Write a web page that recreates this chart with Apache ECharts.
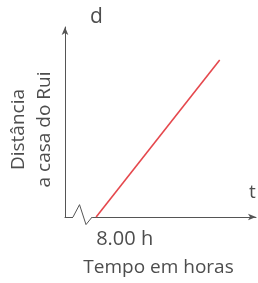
<!DOCTYPE html>
<html>
<head>
<meta charset="utf-8">
<script src="https://cdn.jsdelivr.net/npm/echarts@6/dist/echarts.min.js"></script>
<style>
  html, body { margin: 0; padding: 0; background: #fff; }
  #chart { width: 258px; height: 283px; }
</style>
</head>
<body>
<div id="chart"></div>
<script>
// tempo (unidades arbitrárias do eixo) e distância da viagem
var times = [16.3, 81]
var distances = [0, 82.6]

// rótulo do instante de partida
var startLabel = '8.00 h'

// quebra (zigue-zague) no eixo do tempo
var breakTimes = [4.2, 7.6, 11, 14.2]
var breakValues = [0, 6.5, -4, 0]

var textColor = '#4d4d4d'
var font = 'Open Sans'

var chart = echarts.init(document.getElementById('chart'))

chart.setOption({
  animation: false,
  grid: { left: 65, right: 2, top: 27, bottom: 66, outerBoundsMode: 'none' },
  xAxis: {
    type: 'value',
    min: 0,
    max: 100,
    name: 'Tempo em horas',
    nameLocation: 'middle',
    nameGap: 41,
    nameTextStyle: { color: textColor, fontSize: 19, fontFamily: font, padding: [0, 4, 0, 0] },
    axisLine: {
      lineStyle: { color: '#555', width: 1 },
      symbol: ['none', 'arrow'],
      symbolSize: [5, 8]
    },
    axisTick: { show: false },
    splitLine: { show: false },
    axisLabel: {
      customValues: [times[0]],
      formatter: function () { return startLabel },
      align: 'left',
      margin: 12,
      color: textColor,
      fontSize: 20,
      fontFamily: font
    }
  },
  yAxis: {
    type: 'value',
    min: 0,
    max: 100,
    name: 'Distância\na casa do Rui',
    nameLocation: 'middle',
    nameGap: 7,
    nameTextStyle: {
      color: textColor, fontSize: 19, fontFamily: font, lineHeight: 26,
      padding: [0, 15, 0, 0]
    },
    axisLine: {
      show: true,
      lineStyle: { color: '#555', width: 1 },
      symbol: ['none', 'arrow'],
      symbolSize: [5, 8]
    },
    axisTick: { show: false },
    splitLine: { show: false },
    axisLabel: { show: false }
  },
  graphic: [
    { type: 'text', left: 90, top: 7, style: { text: 'd', fill: textColor, fontSize: 21, fontFamily: font } },
    { type: 'text', left: 249, top: 183, style: { text: 't', fill: textColor, fontSize: 19, fontFamily: font } }
  ],
  series: [
    {
      type: 'line',
      data: [[breakTimes[0], 0], [breakTimes[3], 0]],
      symbol: 'none',
      lineStyle: { color: '#fff', width: 4 },
      z: 3
    },
    {
      type: 'line',
      data: breakTimes.map(function (t, i) { return [t, breakValues[i]] }),
      symbol: 'none',
      clip: false,
      lineStyle: { color: '#555', width: 1 },
      z: 4
    },
    {
      type: 'line',
      data: times.map(function (t, i) { return [t, distances[i]] }),
      symbol: 'none',
      lineStyle: { color: '#e5484d', width: 1.6 },
      z: 5
    }
  ]
})
</script>
</body>
</html>
